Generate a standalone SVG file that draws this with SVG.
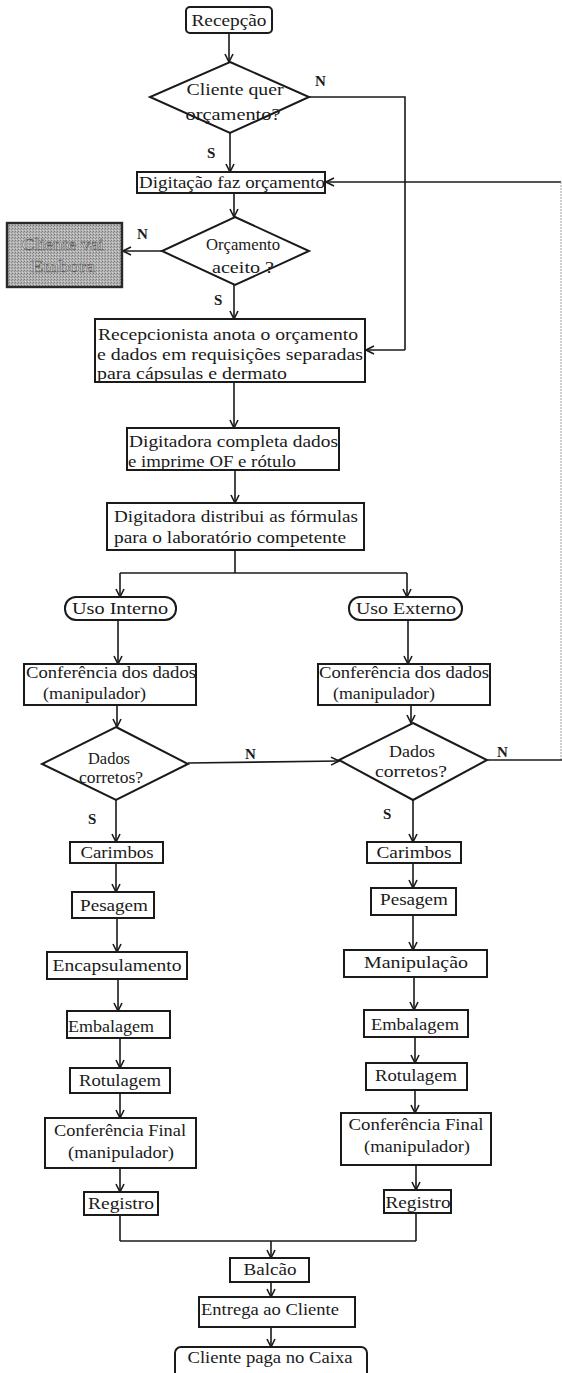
<svg xmlns="http://www.w3.org/2000/svg" width="562" height="1373" viewBox="0 0 562 1373">
  <style>
    .box { fill: #ffffff; stroke: #1a1a1a; stroke-width: 2; }
    .ln { fill: none; stroke: #1a1a1a; stroke-width: 1.6; }
    .arr { fill: none; stroke: #1a1a1a; stroke-width: 1.6; marker-end: url(#ah); }
    .faint { fill: none; stroke: #a0a0a0; stroke-width: 1; stroke-dasharray: 2 1; }
    .t { font-family: "Liberation Serif", "Times New Roman", serif; font-size: 17px; fill: #1a1a1a; }
    .c { text-anchor: middle; }
    .lbl { font-family: "Liberation Serif", "Times New Roman", serif; font-size: 15px; font-weight: bold; fill: #1a1a1a; }
    .gone { fill: url(#grain); stroke: #2a2a2a; stroke-width: 2.4; }
    .gonet { font-family: "Liberation Serif", "Times New Roman", serif; font-size: 17px; fill: #f4f4f4; stroke: #5a5a5a; stroke-width: 0.6; text-anchor: middle; }
  </style>
  <defs>
    <marker id="ah" markerWidth="10" markerHeight="10" refX="9" refY="5" orient="auto" markerUnits="userSpaceOnUse">
      <path d="M1,1 L9,5 L1,9" fill="none" stroke="#1a1a1a" stroke-width="1.6"/>
    </marker>
    <pattern id="grain" width="3" height="3" patternUnits="userSpaceOnUse">
      <rect width="3" height="3" fill="#b2b2b2"/>
      <rect width="1" height="1" fill="#7c7c7c"/>
      <rect x="2" y="1" width="1" height="1" fill="#8e8e8e"/>
      <rect x="1" y="2" width="1" height="1" fill="#d2d2d2"/>
    </pattern>
  </defs>

  <rect width="562" height="1373" fill="#ffffff"/>

  <!-- connectors -->
  <g id="connectors">
    <line class="arr" x1="229" y1="33" x2="229" y2="62"/>
    <polyline class="ln" points="309,97 405,97 405,350"/>
    <line class="arr" x1="405" y1="350" x2="366" y2="350"/>
    <line class="arr" x1="230" y1="133" x2="230" y2="172"/>
    <line class="arr" x1="561" y1="182" x2="326" y2="182"/>
    <line class="faint" x1="561" y1="182" x2="561" y2="760"/>
    <line class="arr" x1="234" y1="193" x2="234" y2="217"/>
    <line class="arr" x1="162" y1="251" x2="123" y2="251"/>
    <line class="arr" x1="234" y1="285" x2="234" y2="319"/>
    <line class="arr" x1="234" y1="382" x2="234" y2="428"/>
    <line class="arr" x1="235" y1="470" x2="235" y2="503"/>
    <line class="ln" x1="235" y1="550" x2="235" y2="573"/>
    <line class="ln" x1="120" y1="573" x2="407" y2="573"/>
    <line class="arr" x1="120" y1="573" x2="120" y2="597"/>
    <line class="arr" x1="407" y1="573" x2="407" y2="597"/>
    <line class="arr" x1="118" y1="620" x2="118" y2="664"/>
    <line class="arr" x1="408" y1="620" x2="408" y2="664"/>
    <line class="arr" x1="117" y1="705" x2="117" y2="727"/>
    <line class="arr" x1="411" y1="705" x2="411" y2="723"/>
    <line class="arr" x1="188" y1="763" x2="339" y2="761"/>
    <line class="ln" x1="487" y1="760" x2="562" y2="760"/>
    <!-- left column -->
    <line class="arr" x1="116" y1="800" x2="116" y2="842"/>
    <line class="arr" x1="116" y1="863" x2="116" y2="892"/>
    <line class="arr" x1="117" y1="918" x2="117" y2="952"/>
    <line class="arr" x1="118" y1="979" x2="118" y2="1011"/>
    <line class="arr" x1="120" y1="1038" x2="120" y2="1068"/>
    <line class="arr" x1="120" y1="1093" x2="120" y2="1118"/>
    <line class="arr" x1="120" y1="1168" x2="120" y2="1192"/>
    <line class="ln" x1="120" y1="1215" x2="120" y2="1241"/>
    <!-- right column -->
    <line class="arr" x1="413" y1="800" x2="413" y2="842"/>
    <line class="arr" x1="413" y1="863" x2="413" y2="888"/>
    <line class="arr" x1="413" y1="915" x2="413" y2="950"/>
    <line class="arr" x1="414" y1="977" x2="414" y2="1010"/>
    <line class="arr" x1="415" y1="1037" x2="415" y2="1063"/>
    <line class="arr" x1="415" y1="1090" x2="415" y2="1113"/>
    <line class="arr" x1="416" y1="1165" x2="416" y2="1190"/>
    <line class="ln" x1="416" y1="1213" x2="416" y2="1241"/>
    <!-- merge and tail -->
    <line class="ln" x1="120" y1="1241" x2="416" y2="1241"/>
    <line class="arr" x1="271" y1="1241" x2="271" y2="1258"/>
    <line class="arr" x1="271" y1="1282" x2="271" y2="1297"/>
    <line class="arr" x1="271" y1="1327" x2="271" y2="1347"/>
    <!-- branch labels -->
    <text class="lbl" x="315" y="86">N</text>
    <text class="lbl" x="207" y="158">S</text>
    <text class="lbl" x="137" y="239">N</text>
    <text class="lbl" x="214" y="305">S</text>
    <text class="lbl" x="245" y="759">N</text>
    <text class="lbl" x="497" y="757">N</text>
    <text class="lbl" x="88" y="824">S</text>
    <text class="lbl" x="383" y="819">S</text>
  </g>

  <g id="recepcao">
    <rect class="box" x="186" y="7" width="86" height="26" rx="4"/>
    <text class="t c" x="229" y="26" textLength="75" lengthAdjust="spacingAndGlyphs">Recepção</text>
  </g>

  <g id="cliente-quer-orcamento">
    <polygon class="box" points="230,62 309,97 230,133 150,97"/>
    <text class="t c" x="235" y="95" textLength="97" lengthAdjust="spacingAndGlyphs">Cliente quer</text>
    <text class="t c" x="233" y="120" textLength="95" lengthAdjust="spacingAndGlyphs">orçamento?</text>
  </g>

  <g id="digitacao-orcamento">
    <rect class="box" x="137" y="172" width="188" height="21"/>
    <text class="t" x="139" y="188" textLength="186" lengthAdjust="spacingAndGlyphs">Digitação faz orçamento</text>
  </g>

  <g id="orcamento-aceito">
    <polygon class="box" points="235,217 309,251 235,285 162,251"/>
    <text class="t c" x="243" y="250" textLength="74" lengthAdjust="spacingAndGlyphs">Orçamento</text>
    <text class="t c" x="243" y="273" textLength="62" lengthAdjust="spacingAndGlyphs">aceito ?</text>
  </g>

  <g id="cliente-vai-embora">
    <rect class="gone" x="7" y="223" width="115" height="64"/>
    <text class="gonet" x="63" y="250" textLength="82" lengthAdjust="spacingAndGlyphs">Cliente vai</text>
    <text class="gonet" x="63" y="272" textLength="64" lengthAdjust="spacingAndGlyphs">Embora</text>
  </g>

  <g id="recepcionista">
    <rect class="box" x="95" y="319" width="270" height="63"/>
    <text class="t" x="98" y="340" textLength="260" lengthAdjust="spacingAndGlyphs">Recepcionista anota o orçamento</text>
    <text class="t" x="97" y="360" textLength="266" lengthAdjust="spacingAndGlyphs">e dados em requisições separadas</text>
    <text class="t" x="97" y="379" textLength="190" lengthAdjust="spacingAndGlyphs">para cápsulas e dermato</text>
  </g>

  <g id="digitadora-completa">
    <rect class="box" x="127" y="428" width="212" height="42"/>
    <text class="t" x="129" y="447" textLength="209" lengthAdjust="spacingAndGlyphs">Digitadora completa dados</text>
    <text class="t" x="128" y="467" textLength="168" lengthAdjust="spacingAndGlyphs">e imprime OF e rótulo</text>
  </g>

  <g id="digitadora-distribui">
    <rect class="box" x="107" y="503" width="257" height="47"/>
    <text class="t" x="114" y="522" textLength="244" lengthAdjust="spacingAndGlyphs">Digitadora distribui as fórmulas</text>
    <text class="t" x="114" y="543" textLength="232" lengthAdjust="spacingAndGlyphs">para o laboratório competente</text>
  </g>

  <g id="uso-interno">
    <rect class="box" x="65" y="597" width="111" height="23" rx="11"/>
    <text class="t c" x="120" y="614" textLength="96" lengthAdjust="spacingAndGlyphs">Uso Interno</text>
  </g>

  <g id="uso-externo">
    <rect class="box" x="349" y="597" width="113" height="23" rx="11"/>
    <text class="t c" x="406" y="614" textLength="100" lengthAdjust="spacingAndGlyphs">Uso Externo</text>
  </g>

  <g id="conferencia-interno">
    <rect class="box" x="24" y="664" width="172" height="41"/>
    <text class="t" x="26" y="678" textLength="170" lengthAdjust="spacingAndGlyphs">Conferência dos dados</text>
    <text class="t" x="43" y="699" textLength="103" lengthAdjust="spacingAndGlyphs">(manipulador)</text>
  </g>

  <g id="conferencia-externo">
    <rect class="box" x="318" y="664" width="172" height="41"/>
    <text class="t" x="319" y="678" textLength="170" lengthAdjust="spacingAndGlyphs">Conferência dos dados</text>
    <text class="t" x="333" y="699" textLength="102" lengthAdjust="spacingAndGlyphs">(manipulador)</text>
  </g>

  <g id="dados-corretos-interno">
    <polygon class="box" points="116,727 188,764 116,800 42,764"/>
    <text class="t c" x="109" y="764" textLength="42" lengthAdjust="spacingAndGlyphs">Dados</text>
    <text class="t c" x="111" y="783" textLength="64" lengthAdjust="spacingAndGlyphs">corretos?</text>
  </g>

  <g id="dados-corretos-externo">
    <polygon class="box" points="413,723 487,760 413,800 339,760"/>
    <text class="t c" x="412" y="757" textLength="46" lengthAdjust="spacingAndGlyphs">Dados</text>
    <text class="t c" x="411" y="777" textLength="72" lengthAdjust="spacingAndGlyphs">corretos?</text>
  </g>

  <!-- internal-use lane -->
  <g id="carimbos-interno">
    <rect class="box" x="70" y="842" width="93" height="21"/>
    <text class="t c" x="117" y="858" textLength="73" lengthAdjust="spacingAndGlyphs">Carimbos</text>
  </g>
  <g id="pesagem-interno">
    <rect class="box" x="72" y="892" width="82" height="26"/>
    <text class="t c" x="114" y="911" textLength="68" lengthAdjust="spacingAndGlyphs">Pesagem</text>
  </g>
  <g id="encapsulamento">
    <rect class="box" x="47" y="952" width="140" height="27"/>
    <text class="t c" x="117" y="971" textLength="129" lengthAdjust="spacingAndGlyphs">Encapsulamento</text>
  </g>
  <g id="embalagem-interno">
    <rect class="box" x="67" y="1011" width="103" height="27"/>
    <text class="t" x="68" y="1032" textLength="86" lengthAdjust="spacingAndGlyphs">Embalagem</text>
  </g>
  <g id="rotulagem-interno">
    <rect class="box" x="70" y="1068" width="100" height="25"/>
    <text class="t c" x="120" y="1086" textLength="82" lengthAdjust="spacingAndGlyphs">Rotulagem</text>
  </g>
  <g id="conferencia-final-interno">
    <rect class="box" x="45" y="1118" width="151" height="50"/>
    <text class="t c" x="120" y="1136" textLength="132" lengthAdjust="spacingAndGlyphs">Conferência Final</text>
    <text class="t c" x="121" y="1158" textLength="106" lengthAdjust="spacingAndGlyphs">(manipulador)</text>
  </g>
  <g id="registro-interno">
    <rect class="box" x="84" y="1192" width="74" height="23"/>
    <text class="t c" x="121" y="1209" textLength="66" lengthAdjust="spacingAndGlyphs">Registro</text>
  </g>

  <!-- external-use lane -->
  <g id="carimbos-externo">
    <rect class="box" x="367" y="842" width="94" height="21"/>
    <text class="t c" x="414" y="858" textLength="75" lengthAdjust="spacingAndGlyphs">Carimbos</text>
  </g>
  <g id="pesagem-externo">
    <rect class="box" x="371" y="888" width="85" height="27"/>
    <text class="t c" x="414" y="905" textLength="68" lengthAdjust="spacingAndGlyphs">Pesagem</text>
  </g>
  <g id="manipulacao">
    <rect class="box" x="344" y="950" width="143" height="27"/>
    <text class="t c" x="416" y="968" textLength="104" lengthAdjust="spacingAndGlyphs">Manipulação</text>
  </g>
  <g id="embalagem-externo">
    <rect class="box" x="364" y="1010" width="104" height="27"/>
    <text class="t c" x="415" y="1030" textLength="88" lengthAdjust="spacingAndGlyphs">Embalagem</text>
  </g>
  <g id="rotulagem-externo">
    <rect class="box" x="366" y="1063" width="101" height="27"/>
    <text class="t c" x="416" y="1081" textLength="82" lengthAdjust="spacingAndGlyphs">Rotulagem</text>
  </g>
  <g id="conferencia-final-externo">
    <rect class="box" x="341" y="1113" width="150" height="52"/>
    <text class="t c" x="416" y="1130" textLength="135" lengthAdjust="spacingAndGlyphs">Conferência Final</text>
    <text class="t c" x="417" y="1152" textLength="106" lengthAdjust="spacingAndGlyphs">(manipulador)</text>
  </g>
  <g id="registro-externo">
    <rect class="box" x="384" y="1190" width="67" height="23"/>
    <text class="t c" x="418" y="1208" textLength="65" lengthAdjust="spacingAndGlyphs">Registro</text>
  </g>

  <!-- common tail -->
  <g id="balcao">
    <rect class="box" x="230" y="1258" width="79" height="24"/>
    <text class="t c" x="270" y="1275" textLength="53" lengthAdjust="spacingAndGlyphs">Balcão</text>
  </g>
  <g id="entrega">
    <rect class="box" x="199" y="1297" width="156" height="30"/>
    <text class="t" x="201" y="1315" textLength="138" lengthAdjust="spacingAndGlyphs">Entrega ao Cliente</text>
  </g>
  <g id="cliente-paga">
    <rect class="box" x="175" y="1347" width="192" height="40" rx="6"/>
    <text class="t c" x="270" y="1363" textLength="165" lengthAdjust="spacingAndGlyphs">Cliente paga no Caixa</text>
  </g>
</svg>
